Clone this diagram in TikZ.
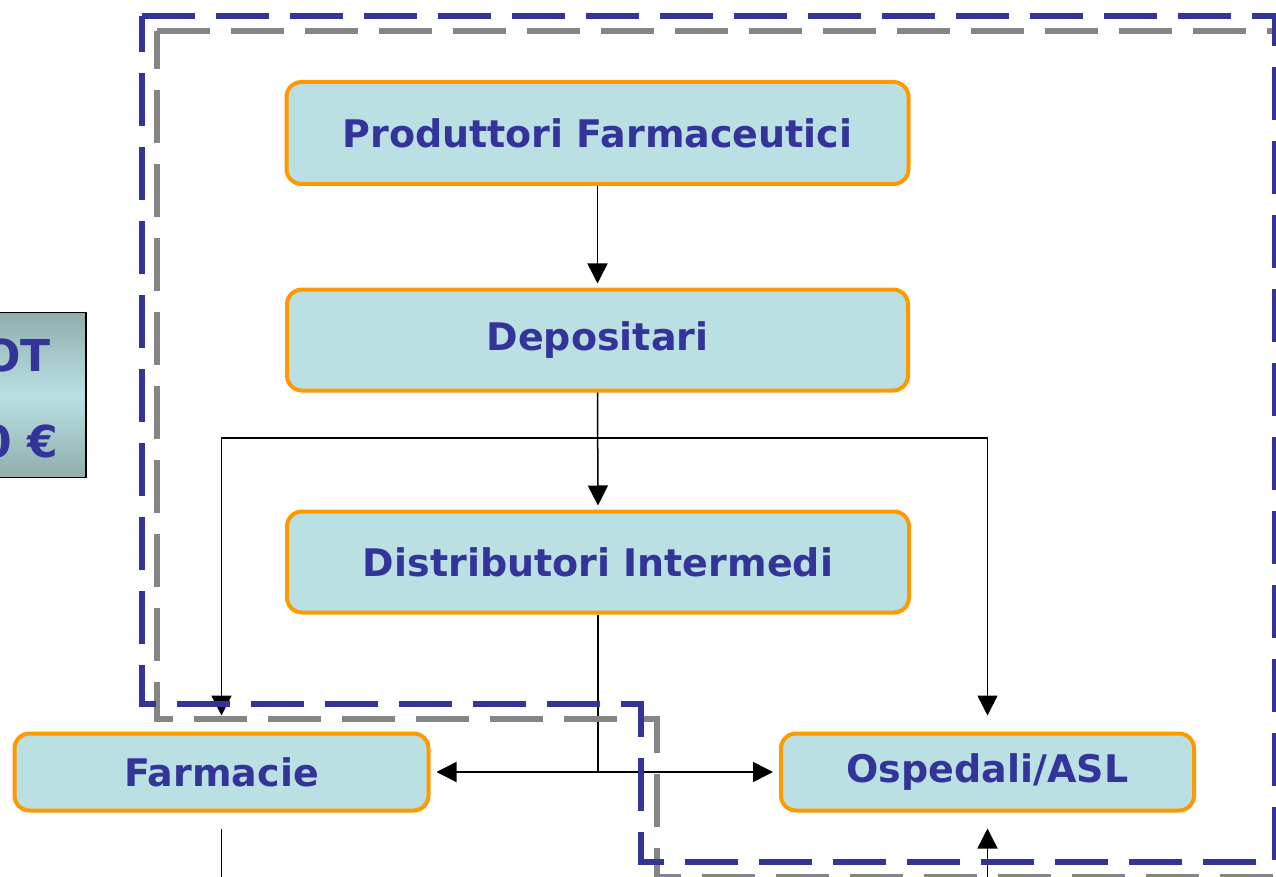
\documentclass[tikz,border=0pt]{standalone}
\usepackage{fontspec}
\setmainfont{DejaVu Sans}
\usetikzlibrary{arrows.meta}
\definecolor{txtblue}{HTML}{333399}
\definecolor{boxfill}{HTML}{BAE0E3}
\definecolor{boxedge}{HTML}{FF9900}
\definecolor{dashgray}{HTML}{858585}
\definecolor{shadedark}{HTML}{8FAEAE}
\tikzset{
  flowbox/.style={draw=boxedge, fill=boxfill, line width=4pt, rounded corners=15pt,
    inner sep=0pt, text=txtblue, font=\fontsize{38}{44}\selectfont\bfseries},
  conn/.style={line width=1.5pt, draw=black},
  arr/.style={conn, -{Triangle[length=20pt,width=20pt]}},
  outerdash/.style={draw=txtblue, line width=5.5pt, dash pattern=on 53pt off 21pt},
  innerdash/.style={draw=dashgray, line width=5.5pt, dash pattern=on 53pt off 21pt},
  sidebox/.style={draw=black, line width=1.5pt, top color=shadedark, bottom color=shadedark,
    middle color=boxfill, inner sep=0pt},
  sidetext/.style={text=txtblue, font=\fontsize{44}{50}\selectfont\bfseries, inner sep=0pt}
}
\begin{document}
\begin{tikzpicture}[x=1pt,y=-1pt]
\useasboundingbox (0,0) rectangle (1276,877);
\clip (0,0) rectangle (1276,877);

% side box (partly off canvas)
\node[sidebox, minimum width=200pt, minimum height=165pt] (side) at (-14,395) {};
\node[sidetext, anchor=east] (sideA) at (51,355) {OT};
\node[sidetext, anchor=east] (sideB) at (58,441) {0 €};

% flow boxes
\node[flowbox, minimum width=622pt, minimum height=102pt] (prod) at (597.5,133) {Produttori Farmaceutici};
\node[flowbox, minimum width=621pt, minimum height=101pt] (dep) at (597.5,340) {Depositari};
\node[flowbox, minimum width=622pt, minimum height=101pt] (dist) at (598,562) {Distributori Intermedi};
\node[flowbox, minimum width=414pt, minimum height=77pt] (farm) at (221.5,772) {Farmacie};
\node[flowbox, minimum width=413pt, minimum height=77pt] (osp) at (987.5,772) {Ospedali/ASL};

% connectors
\coordinate (branch) at (598,438);
\coordinate (junction) at (598,772);
\coordinate (farmdown) at (221.5,880);
\coordinate (ospup) at (987.5,880);

\draw[arr, shorten >=4pt] (prod.south) -- (dep.north);
\draw[arr, shorten >=4pt] (dep.south) -- (dist.north);
\draw[arr, shorten >=16pt] (branch) -| (farm.north);
\draw[arr, shorten >=16pt] (branch) -| (osp.north);
\draw[conn] (dist.south) -- (junction);
\draw[arr, shorten >=6pt] (junction) -- (farm.east);
\draw[arr, shorten >=6pt] (junction) -- (osp.west);
\draw[conn, shorten <=16pt] (farm.south) -- (farmdown);
\draw[arr, shorten >=16pt] (ospup) -- (osp.south);

% dashed boundaries
\draw[innerdash] (157,31) -- (1291,31) -- (1291,877) -- (657,877) -- (657,719) -- (157,719) -- cycle;
\draw[outerdash] (142,16) -- (1275,16) -- (1275,862) -- (641,862) -- (641,704) -- (142,704) -- cycle;
\end{tikzpicture}
\end{document}
